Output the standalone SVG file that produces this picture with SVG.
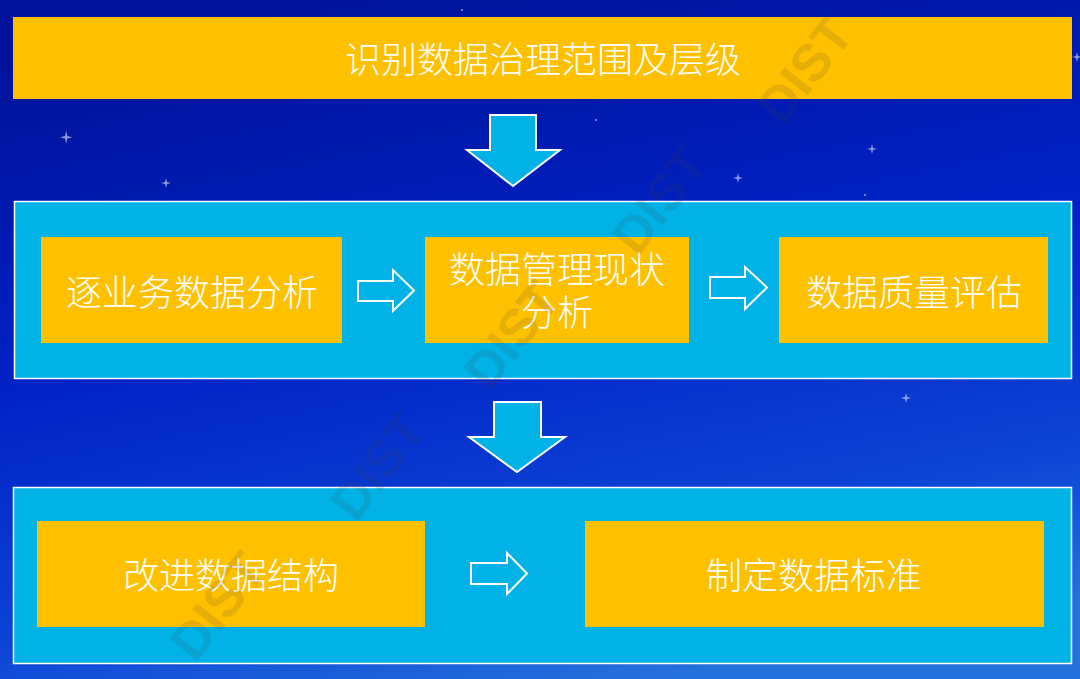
<svg xmlns="http://www.w3.org/2000/svg" width="1080" height="679" viewBox="0 0 1080 679">
  <defs>
    <linearGradient id="bg" x1="0.3" y1="0" x2="0.6" y2="1">
      <stop offset="0" stop-color="#00139a"/>
      <stop offset="0.45" stop-color="#0022c6"/>
      <stop offset="0.8" stop-color="#0d45d6"/>
      <stop offset="1" stop-color="#2470dc"/>
    </linearGradient>
    <style>
      .container { fill: #00b2e6; stroke: #ffffff; stroke-width: 1.5; }
      .box { fill: #ffc000; }
      .label { fill: #ffffff; font-family: "Noto Sans CJK SC", "Noto Sans", sans-serif; font-weight: 300; font-size: 36px; text-anchor: middle; dominant-baseline: central; }
      .down { fill: #00b2e6; stroke: #ffffff; stroke-width: 2; stroke-linejoin: miter; }
      .right { fill: none; stroke: #ffffff; stroke-width: 2; stroke-linejoin: miter; }
      .wm { fill: #404040; fill-opacity: 0.13; font-family: "Liberation Sans", Arial, sans-serif; font-weight: bold; font-size: 52px; text-anchor: middle; dominant-baseline: central; }
      .star { fill: #ffffff; opacity: 0.55; }
    </style>
  </defs>

  <rect x="0" y="0" width="1080" height="679" fill="url(#bg)"/>

  <g id="stars">
    <path class="star" d="M65 136 l1.2 -5 l1.2 5 l5 1.2 l-5 1.2 l-1.2 5 l-1.2 -5 l-5 -1.2 z"/>
    <path class="star" d="M165 182 l1 -4 l1 4 l4 1 l-4 1 l-1 4 l-1 -4 l-4 -1 z"/>
    <path class="star" d="M737 177 l1 -4 l1 4 l4 1 l-4 1 l-1 4 l-1 -4 l-4 -1 z"/>
    <path class="star" d="M871 148 l1 -4 l1 4 l4 1 l-4 1 l-1 4 l-1 -4 l-4 -1 z"/>
    <path class="star" d="M905 397 l1 -4 l1 4 l4 1 l-4 1 l-1 4 l-1 -4 l-4 -1 z"/>
    <path class="star" d="M1076 56 l1 -4 l1 4 l4 1 l-4 1 l-1 4 l-1 -4 l-4 -1 z"/>
    <circle class="star" cx="596" cy="120" r="1"/>
    <circle class="star" cx="865" cy="195" r="1"/>
    <circle class="star" cx="462" cy="10" r="1"/>
  </g>

  <g id="containers">
    <rect id="stage2" class="container" x="14.5" y="201.5" width="1057" height="177"/>
    <rect id="stage3" class="container" x="13.5" y="487.5" width="1058" height="176"/>
  </g>

  <g id="n-top">
    <rect class="box" x="13" y="17" width="1059" height="82"/>
    <text class="label" x="543" y="57">识别数据治理范围及层级</text>
  </g>
  <g id="n-a">
    <rect class="box" x="41" y="237" width="301" height="106"/>
    <text class="label" x="192" y="290">逐业务数据分析</text>
  </g>
  <g id="n-b">
    <rect class="box" x="425" y="237" width="264" height="106"/>
    <text class="label" x="557" y="267">数据管理现状</text>
    <text class="label" x="557" y="310">分析</text>
  </g>
  <g id="n-c">
    <rect class="box" x="779" y="237" width="269" height="106"/>
    <text class="label" x="914" y="290">数据质量评估</text>
  </g>
  <g id="n-d">
    <rect class="box" x="37" y="521" width="388" height="106"/>
    <text class="label" x="231" y="573">改进数据结构</text>
  </g>
  <g id="n-e">
    <rect class="box" x="585" y="521" width="459" height="106"/>
    <text class="label" x="814" y="573">制定数据标准</text>
  </g>

  <g id="connectors">
    <polygon class="down" points="490,115 536,115 536,150 560,150 513,186 467,150 490,150"/>
    <polygon class="down" points="494,402 541,402 541,437 565,437 517,472 469,437 494,437"/>
    <polygon class="right" points="358,281 393,281 393,270 414,290.5 393,311 393,301 358,301"/>
    <polygon class="right" points="710,277 745,277 745,267 767,287.5 745,309 745,298 710,298"/>
    <polygon class="right" points="471,563 507,563 507,553 527,573.5 507,594 507,584 471,584"/>
  </g>

  <g id="watermark">
    <text class="wm" transform="translate(218,606) rotate(-52)">DIST</text>
    <text class="wm" transform="translate(378,466) rotate(-52)">DIST</text>
    <text class="wm" transform="translate(512,335) rotate(-52)">DIST</text>
    <text class="wm" transform="translate(660,200) rotate(-52)">DIST</text>
    <text class="wm" transform="translate(805,70) rotate(-52)">DIST</text>
  </g>
</svg>
